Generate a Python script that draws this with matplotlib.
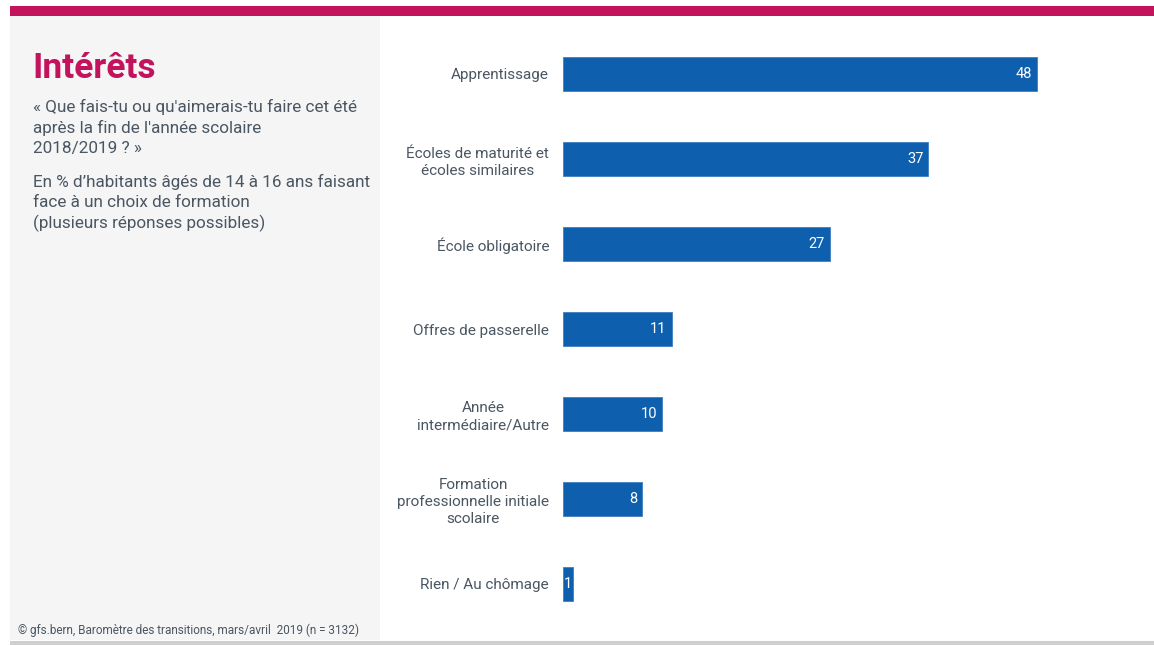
import matplotlib
matplotlib.use("Agg")
import matplotlib.pyplot as plt
from matplotlib.patches import Rectangle

categories = [
    "Apprentissage",
    "Écoles de maturité et\nécoles similaires",
    "École obligatoire",
    "Offres de passerelle",
    "Année\nintermédiaire/Autre",
    "Formation\nprofessionnelle initiale\nscolaire",
    "Rien / Au chômage",
]
values = [48, 37, 27, 11, 10, 8, 1]

title = "Intérêts"
subtitle1 = "« Que fais-tu ou qu'aimerais-tu faire cet été\naprès la fin de l'année scolaire\n2018/2019 ? »"
subtitle2 = "En % d’habitants âgés de 14 à 16 ans faisant\nface à un choix de formation\n(plusieurs réponses possibles)"
footer = "© gfs.bern, Baromètre des transitions, mars/avril  2019 (n = 3132)"

W, H = 1154, 645
MAGENTA = "#C4135D"
BLUE = "#0E5FAD"
TEXT = "#4A5662"

plt.rcParams["font.family"] = ["Roboto", "DejaVu Sans"]

fig = plt.figure(figsize=(W / 100, H / 100), dpi=100)
fig.patch.set_facecolor("white")

def fx(px):
    return px / W

def fy(py):
    return 1 - py / H

# background decorations
fig.add_artist(Rectangle((fx(10), fy(640)), fx(370), (640 - 16) / H,
                         transform=fig.transFigure, color="#F5F5F5", zorder=0, lw=0))
fig.add_artist(Rectangle((fx(10), fy(16)), fx(1144), 10 / H,
                         transform=fig.transFigure, color=MAGENTA, zorder=1, lw=0))
fig.add_artist(Rectangle((fx(10), fy(645)), fx(1144), 4 / H,
                         transform=fig.transFigure, color="#CFCFCF", zorder=1, lw=0))

# texts on left panel
fig.text(fx(32), fy(68), title, fontsize=25.5, fontweight="bold", color=MAGENTA,
         va="center", ha="left")
fig.text(fx(33), fy(99), subtitle1, fontsize=12.3, color=TEXT, va="top", ha="left",
         linespacing=1.4)
fig.text(fx(33), fy(174), subtitle2, fontsize=12.3, color=TEXT, va="top", ha="left",
         linespacing=1.4)
fig.text(fx(18), fy(630), footer, fontsize=8.5, color=TEXT, va="center", ha="left")

# bar chart
left_px, right_px = 563, 1154
top_px, bot_px = 31.5, 626.5
ax = fig.add_axes([fx(left_px), fy(bot_px), fx(right_px - left_px), (bot_px - top_px) / H])
ax.set_facecolor("none")
xmax = 48 * (right_px - left_px) / (1037 - left_px)
ypos = list(range(len(categories)))
ax.barh(ypos, values, height=0.4, color=BLUE, edgecolor="#3F7FC0", linewidth=0.6)
ax.set_xlim(0, xmax)
ax.set_ylim(len(categories) - 0.5, -0.5)
ax.set_yticks(ypos)
ax.set_yticklabels(categories, fontsize=11, color=TEXT, ha="right",
                   multialignment="center", linespacing=1.3)
ax.tick_params(axis="y", length=0, pad=10)
ax.set_xticks([])
for s in ax.spines.values():
    s.set_visible(False)

for y, v in zip(ypos, values):
    if v < 3:
        ax.annotate(str(v), (v / 2, y), ha="center", va="center",
                    color="white", fontsize=10.5)
    else:
        ax.annotate(str(v), (v, y), xytext=(-3.5, 0), textcoords="offset points",
                    ha="right", va="center", color="white", fontsize=10.5)

fig.savefig("out.png", dpi=100, facecolor="white")
